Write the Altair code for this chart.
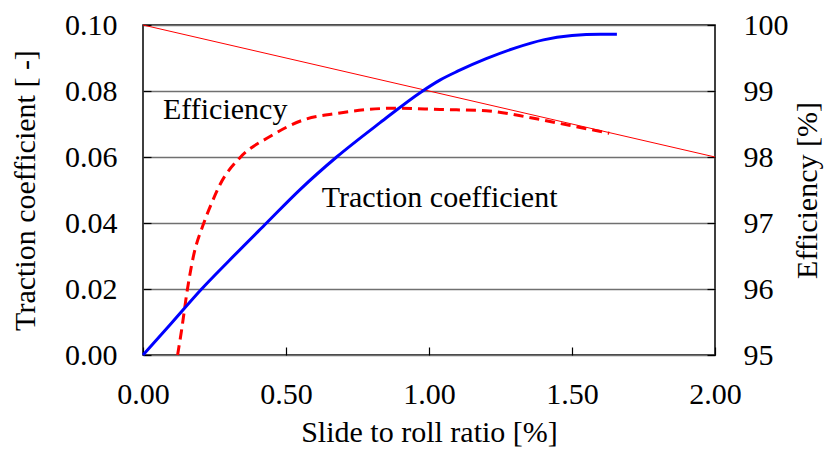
import altair as alt
import pandas as pd

# Traction coefficient vs. slide-to-roll ratio
slip_t = [0.0, 0.1, 0.205, 0.3, 0.432, 0.55, 0.677, 0.829, 0.974, 1.038,
          1.1, 1.2, 1.3, 1.4, 1.5, 1.6, 1.657]
traction = [0.0, 0.0097, 0.02, 0.0285, 0.04, 0.0502, 0.0600, 0.0704, 0.0798, 0.0833,
            0.0860, 0.0898, 0.0930, 0.0955, 0.0968, 0.0972, 0.0972]

# Efficiency vs. slide-to-roll ratio
slip_e = [0.121, 0.135, 0.153, 0.176, 0.211, 0.24, 0.269, 0.339, 0.444, 0.56,
          0.677, 0.887, 1.038, 1.2, 1.35, 1.49, 1.63]
efficiency = [95.0, 95.38, 95.93, 96.49, 96.98, 97.30, 97.58, 97.99, 98.31, 98.56,
              98.66, 98.74, 98.72, 98.70, 98.60, 98.48, 98.36]

# Straight reference line on the efficiency axis
ref_x = [0.0, 2.0]
ref_eff = [100.0, 98.0]

# In-plot labels
label_text = ["Efficiency", "Traction coefficient"]
label_x = [0.07, 0.625]
label_y = [0.0715, 0.0448]

FONT = "'Liberation Serif', 'Times New Roman', Times, serif"
FS = 30

df_t = pd.DataFrame({"slip": slip_t, "traction": traction})
df_e = pd.DataFrame({"slip": slip_e, "eff": efficiency})
df_r = pd.DataFrame({"slip": ref_x, "eff": ref_eff})
df_l = pd.DataFrame({"slip": label_x, "traction": label_y, "text": label_text})

x_scale = alt.Scale(domain=[0, 2], nice=False, zero=False)
t_scale = alt.Scale(domain=[0, 0.1], nice=False, zero=False)
e_scale = alt.Scale(domain=[95, 100], nice=False, zero=False)

common = dict(
    labelFont=FONT, titleFont=FONT, labelFontSize=FS, titleFontSize=FS,
    labelColor="black", titleColor="black", titleFontWeight="normal",
    labelFlush=False, labelOverlap=False,
    offset=-8, tickSize=8, tickColor="black", tickWidth=1.2, domain=False,
)

x_axis = alt.Axis(
    title="Slide to roll ratio [%]", values=[0, 0.5, 1.0, 1.5, 2.0], format=".2f",
    grid=False, labelPadding=24, titlePadding=8, **common,
)
t_axis = alt.Axis(
    title="Traction coefficient [ -]", orient="left", values=[0, 0.02, 0.04, 0.06, 0.08, 0.10],
    format=".2f", grid=True, gridColor="#707070", gridWidth=1.6,
    labelPadding=26, titlePadding=24, **common,
)
e_axis = alt.Axis(
    title="Efficiency [%]", orient="right", values=[95, 96, 97, 98, 99, 100],
    format="d", grid=False, labelPadding=28, titlePadding=4,
    titleAngle=270, titleBaseline="top", **common,
)

ref_line = alt.Chart(df_r).mark_line(color="#ff0000", strokeWidth=1).encode(
    x=alt.X("slip:Q", scale=x_scale, axis=x_axis),
    y=alt.Y("eff:Q", scale=e_scale, axis=None),
)

eff_line = alt.Chart(df_e).mark_line(color="#ff0000", strokeWidth=3, strokeDash=[10, 6],
                                     interpolate="monotone").encode(
    x=alt.X("slip:Q", scale=x_scale),
    y=alt.Y("eff:Q", scale=e_scale, axis=e_axis),
)

traction_line = alt.Chart(df_t).mark_line(color="#0000ff", strokeWidth=3,
                                          interpolate="monotone").encode(
    x=alt.X("slip:Q", scale=x_scale),
    y=alt.Y("traction:Q", scale=t_scale, axis=t_axis),
)

labels = alt.Chart(df_l).mark_text(align="left", baseline="alphabetic", font=FONT,
                                   fontSize=FS, color="black").encode(
    x=alt.X("slip:Q", scale=x_scale),
    y=alt.Y("traction:Q", scale=t_scale, axis=None),
    text="text:N",
)

chart = alt.layer(ref_line, eff_line, traction_line, labels).resolve_scale(
    y="independent"
).properties(
    width=572, height=330,
    autosize=alt.AutoSizeParams(type="none"),
    padding={"left": 143, "top": 25, "right": 109, "bottom": 95},
    background="white",
).configure_view(
    stroke="black", strokeWidth=1.5,
)

chart.save("out.html", embed_options={"renderer": "svg", "actions": False})
